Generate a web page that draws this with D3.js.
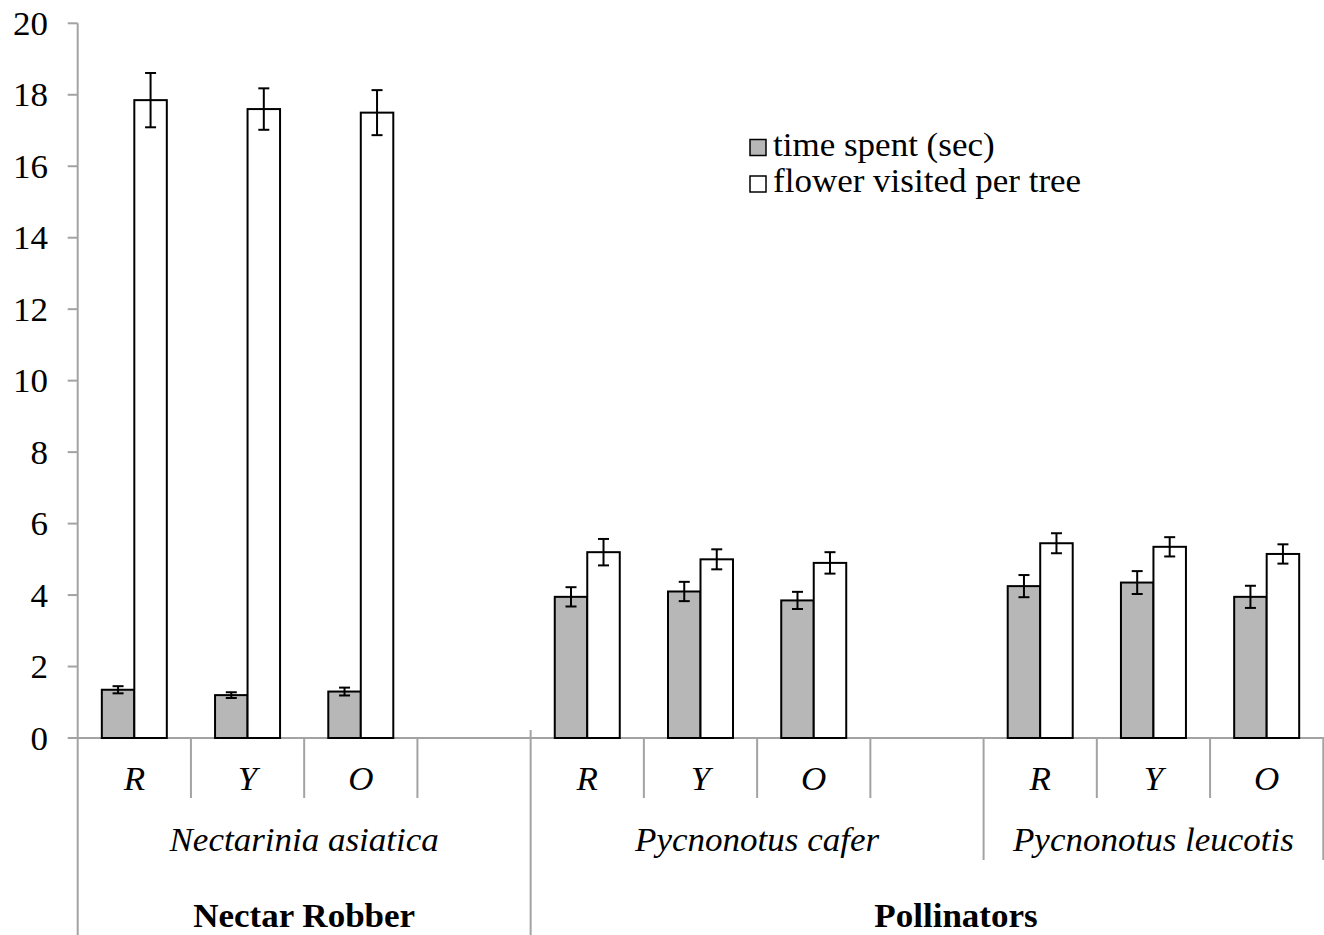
<!DOCTYPE html>
<html>
<head>
<meta charset="utf-8">
<script src="https://cdn.jsdelivr.net/npm/d3@7"></script>
<style>
  html, body { margin: 0; padding: 0; background: #fff; }
  svg { display: block; }
  text { font-family: "Liberation Serif", "Times New Roman", serif; fill: #000; }
</style>
</head>
<body>
<svg id="chart" width="1324" height="935"></svg>
<script>
// ---- data ----
const guilds = ["Nectar Robber", "Pollinators"];
const species = ["Nectarinia asiatica", "Pycnonotus cafer", "Pycnonotus leucotis"];
const flowerColours = ["R", "Y", "O"];
const seriesNames = ["time spent (sec)", "flower visited per tree"];
const timeSpent    = [1.35, 1.20, 1.30, 3.95, 4.10, 3.85, 4.25, 4.35, 3.95];
const timeSpentErr = [0.10, 0.08, 0.11, 0.27, 0.27, 0.24, 0.31, 0.32, 0.31];
const flowers      = [17.85, 17.60, 17.50, 5.20, 5.00, 4.90, 5.45, 5.35, 5.15];
const flowersErr   = [0.76, 0.58, 0.63, 0.37, 0.28, 0.30, 0.28, 0.27, 0.27];
const yTicks = [0, 2, 4, 6, 8, 10, 12, 14, 16, 18, 20];

(function () {
// ---- layout ----
const svg = d3.select("#chart");
const W = 1324, H = 935;
const plotLeft = 77.7, plotRight = 1323.3, plotTop = 23.3, base = 738;
const axisColor = "#a3a3a3";
const FS = 34, SX = 1.03;   // font size and horizontal stretch

// slots: 3 colours per species, with an empty slot after the first two species
const slots = [];
species.forEach((sp, i) => {
  flowerColours.forEach(c => slots.push(sp + "|" + c));
  if (i < species.length - 1) slots.push(sp + "|");
});

const x = d3.scaleBand().domain(slots).range([plotLeft, plotRight]).paddingInner(0).paddingOuter(0);
const step = x.step();
const barW = 32.5;
const inner = d3.scaleBand().domain(seriesNames)
  .range([(step - 2 * barW) / 2, (step - 2 * barW) / 2 + 2 * barW]);
const y = d3.scaleLinear().domain([0, 20]).range([base, plotTop]);

svg.append("rect").attr("width", W).attr("height", H).attr("fill", "#fff");

function txt(g, s, tx, ty, opts = {}) {
  return g.append("text")
    .attr("transform", `translate(${tx},${ty}) scale(${SX},1)`)
    .attr("text-anchor", opts.anchor || "middle")
    .attr("font-size", opts.size || FS)
    .attr("font-style", opts.italic ? "italic" : "normal")
    .attr("font-weight", opts.bold ? "bold" : "normal")
    .text(s);
}

// ---- y axis ----
const gy = svg.append("g");
gy.append("line").attr("x1", plotLeft).attr("x2", plotLeft).attr("y1", y(20)).attr("y2", H)
  .attr("stroke", axisColor).attr("stroke-width", 2);
yTicks.forEach(t => {
  gy.append("line").attr("x1", plotLeft - 10).attr("x2", plotLeft).attr("y1", y(t)).attr("y2", y(t))
    .attr("stroke", axisColor).attr("stroke-width", 2);
  txt(gy, String(t), 48, y(t) + 11.5, { anchor: "end" });
});

// ---- x axis ----
const gx = svg.append("g");
gx.append("line").attr("x1", plotLeft).attr("x2", W).attr("y1", base).attr("y2", base)
  .attr("stroke", axisColor).attr("stroke-width", 2);
const boundary = i => (i < slots.length ? x(slots[i]) : plotRight);
for (let i = 1; i <= slots.length; i++) {
  let y1 = base, y2 = base + 60;
  if (i === 4) { y1 = base - 8; y2 = H; }                       // guild boundary
  else if (i === 8 || i === slots.length) { y2 = base + 122; }  // species boundary
  gx.append("line").attr("x1", boundary(i)).attr("x2", boundary(i)).attr("y1", y1).attr("y2", y2)
    .attr("stroke", axisColor).attr("stroke-width", 2);
}
// colour labels
slots.forEach(s => {
  const c = s.split("|")[1];
  if (c) txt(gx, c, x(s) + step / 2, 790, { italic: true });
});
// species labels
species.forEach((sp, i) => {
  const first = x(sp + "|R");
  const lastSlot = i < species.length - 1 ? sp + "|" : sp + "|O";
  const end = x(lastSlot) + step;
  txt(gx, sp, (first + end) / 2, 851, { italic: true });
});
// guild labels
txt(gx, guilds[0], (plotLeft + boundary(4)) / 2, 927, { bold: true });
txt(gx, guilds[1], 956, 927, { bold: true });

// ---- bars ----
const rows = [];
slots.forEach(s => {
  const [sp, c] = s.split("|");
  if (!c) return;
  const k = species.indexOf(sp) * 3 + flowerColours.indexOf(c);
  rows.push({ slot: s, series: seriesNames[0], v: timeSpent[k], e: timeSpentErr[k], fill: "#b7b7b7" });
  rows.push({ slot: s, series: seriesNames[1], v: flowers[k], e: flowersErr[k], fill: "#ffffff" });
});
const gb = svg.append("g");
gb.selectAll("rect.bar").data(rows).join("rect").attr("class", "bar")
  .attr("x", d => x(d.slot) + inner(d.series))
  .attr("y", d => y(d.v))
  .attr("width", inner.bandwidth())
  .attr("height", d => y(0) - y(d.v))
  .attr("fill", d => d.fill)
  .attr("stroke", "#000").attr("stroke-width", 2);

// error bars
const cap = 5.5;
const ge = svg.append("g").attr("stroke", "#000").attr("stroke-width", 2);
rows.forEach(d => {
  const cx = x(d.slot) + inner(d.series) + inner.bandwidth() / 2;
  ge.append("line").attr("x1", cx).attr("x2", cx).attr("y1", y(d.v + d.e)).attr("y2", y(d.v - d.e));
  ge.append("line").attr("x1", cx - cap).attr("x2", cx + cap).attr("y1", y(d.v + d.e)).attr("y2", y(d.v + d.e));
  ge.append("line").attr("x1", cx - cap).attr("x2", cx + cap).attr("y1", y(d.v - d.e)).attr("y2", y(d.v - d.e));
});

// ---- legend ----
const gl = svg.append("g");
const legendFills = ["#b7b7b7", "#ffffff"];
seriesNames.forEach((n, i) => {
  const by = 155.5 + i * 36.5;
  gl.append("rect").attr("x", 750).attr("y", by - 16).attr("width", 16).attr("height", 16)
    .attr("fill", legendFills[i]).attr("stroke", "#000").attr("stroke-width", 1.5);
  txt(gl, n, 773, by, { anchor: "start" });
});
})();
</script>
</body>
</html>
